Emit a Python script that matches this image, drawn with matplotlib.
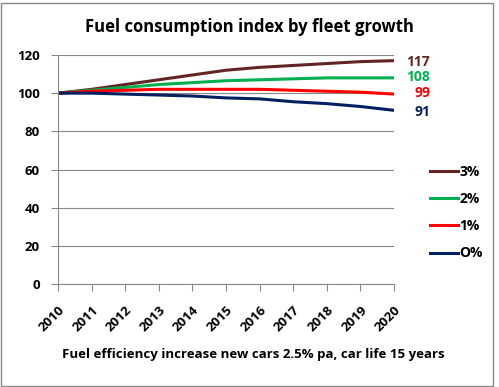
import matplotlib.pyplot as plt

# data
years = [2010, 2011, 2012, 2013, 2014, 2015, 2016, 2017, 2018, 2019, 2020]
growth_3 = [100, 102, 104.5, 107, 109.5, 112, 113.5, 114.5, 115.5, 116.5, 117]
growth_2 = [100, 101.5, 103, 104.5, 105.5, 106.5, 107, 107.5, 108, 108, 108]
growth_1 = [100, 101, 101.5, 102, 102, 102, 102, 101.5, 101, 100.5, 99.5]
growth_0 = [100, 100, 99.5, 99, 98.5, 97.5, 97, 95.5, 94.5, 93, 91]
labels = ['3%', '2%', '1%', 'O%']
end_labels = ['117', '108', '99', '91']
colors = ['#632523', '#00B050', '#FF0000', '#002060']

plt.rcParams['font.family'] = ['Open Sans', 'DejaVu Sans']
plt.rcParams['font.weight'] = 'bold'

fig = plt.figure(figsize=(4.99, 3.87), dpi=100)
ax = fig.add_axes([0.1162, 0.266, 0.6734, 0.592])

series = [growth_3, growth_2, growth_1, growth_0]
for s, lab, c in zip(series, labels, colors):
    ax.plot(years, s, color=c, lw=2.2, label=lab)

# end-of-line value labels
label_y = [116.5, 108.5, 100, 90]
for s, txt, c, ly in zip(series, end_labels, colors, label_y):
    ax.annotate(txt, xy=(years[-1], ly), xytext=(26, 0), textcoords='offset points',
                ha='right', va='center', color=c, fontsize=10, fontweight='bold',
                annotation_clip=False)

ax.set_xlim(2010, 2020)
ax.set_ylim(0, 120)
ax.set_yticks(range(0, 121, 20))
ax.set_xticks(years)
ax.set_xticklabels([str(y) for y in years], rotation=45, ha='right', rotation_mode='anchor',
                   fontsize=9.5, fontweight='bold')
ax.tick_params(axis='y', labelsize=9.5, length=5, color='#888888', pad=8)
ax.tick_params(axis='x', length=5, color='#888888', pad=9)
for lbl in ax.get_yticklabels():
    lbl.set_fontweight('bold')
ax.grid(axis='y', color='#888888', lw=0.8)
ax.set_axisbelow(True)
for side in ['top', 'right']:
    ax.spines[side].set_visible(False)
for side in ['left', 'bottom']:
    ax.spines[side].set_color('#888888')

ax.legend(loc='upper left', bbox_to_anchor=(1.07, 0.575), frameon=False,
          handlelength=2.0, handletextpad=0.1, labelspacing=0.95,
          prop={'weight': 'bold', 'size': 10})

fig.text(0.5, 0.93, 'Fuel consumption index by fleet growth', ha='center', va='center',
         fontsize=12, fontweight='bold')
fig.text(0.507, 0.083, 'Fuel efficiency increase new cars 2.5% pa, car life 15 years',
         ha='center', va='center', fontsize=9.5, fontweight='bold')

# outer border
fig.patches.append(plt.Rectangle((0.002, 0.003), 0.985, 0.99, transform=fig.transFigure,
                                 fill=False, edgecolor='#888888', lw=1))

fig.savefig('out.png', dpi=100)
